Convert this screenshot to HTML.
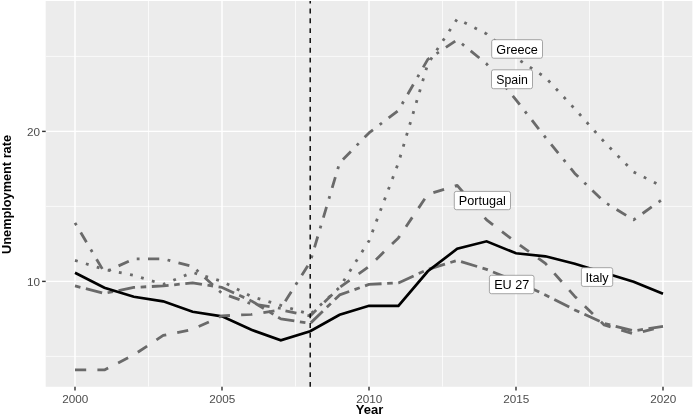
<!DOCTYPE html><html><head><meta charset="utf-8"><title>Unemployment rate</title><style>html,body{margin:0;padding:0;background:#fff}svg{display:block}text{font-family:"Liberation Sans",sans-serif}</style></head><body>
<svg width="694" height="416" viewBox="0 0 694 416">
<rect width="694" height="416" fill="#fff"/>
<rect x="45.7" y="1.0" width="646.65" height="385.75" fill="#ececec"/>
<clipPath id="c"><rect x="45.7" y="1.0" width="646.65" height="385.75"/></clipPath>
<g clip-path="url(#c)">
<line x1="45.7" x2="692.35" y1="356.40" y2="356.40" stroke="#fff" stroke-width="0.71"/>
<line x1="45.7" x2="692.35" y1="206.40" y2="206.40" stroke="#fff" stroke-width="0.71"/>
<line x1="45.7" x2="692.35" y1="56.40" y2="56.40" stroke="#fff" stroke-width="0.71"/>
<line y1="1.0" y2="386.75" x1="148.50" x2="148.50" stroke="#fff" stroke-width="0.71"/>
<line y1="1.0" y2="386.75" x1="295.50" x2="295.50" stroke="#fff" stroke-width="0.71"/>
<line y1="1.0" y2="386.75" x1="442.50" x2="442.50" stroke="#fff" stroke-width="0.71"/>
<line y1="1.0" y2="386.75" x1="589.50" x2="589.50" stroke="#fff" stroke-width="0.71"/>
<line x1="45.7" x2="692.35" y1="281.40" y2="281.40" stroke="#fff" stroke-width="1.42"/>
<line x1="45.7" x2="692.35" y1="131.40" y2="131.40" stroke="#fff" stroke-width="1.42"/>
<line y1="1.0" y2="386.75" x1="75.00" x2="75.00" stroke="#fff" stroke-width="1.42"/>
<line y1="1.0" y2="386.75" x1="222.00" x2="222.00" stroke="#fff" stroke-width="1.42"/>
<line y1="1.0" y2="386.75" x1="369.00" x2="369.00" stroke="#fff" stroke-width="1.42"/>
<line y1="1.0" y2="386.75" x1="516.00" x2="516.00" stroke="#fff" stroke-width="1.42"/>
<line y1="1.0" y2="386.75" x1="663.00" x2="663.00" stroke="#fff" stroke-width="1.42"/>
<polyline points="75.00,285.90 104.40,293.40 133.80,287.40 163.20,285.90 192.60,282.90 222.00,287.40 251.40,300.90 280.80,318.90 310.20,323.40 339.60,294.90 369.00,284.40 398.40,282.90 427.80,269.40 457.20,260.40 486.60,269.40 516.00,281.40 545.40,294.90 574.80,309.90 604.20,323.40 633.60,330.90 663.00,326.40" fill="none" stroke="#6a6a6a" stroke-width="2.8" stroke-linejoin="round" stroke-dasharray="5.600 5.600 16.800 5.600" stroke-dashoffset="0.00"/>
<polyline points="75.00,260.40 104.40,269.40 133.80,275.40 163.20,284.40 192.60,272.40 222.00,281.40 251.40,296.40 280.80,305.40 310.20,314.40 339.60,287.40 369.00,240.90 398.40,162.90 427.80,63.90 457.20,18.90 486.60,33.90 516.00,57.90 545.40,77.40 574.80,108.90 604.20,141.90 633.60,171.90 663.00,186.90" fill="none" stroke="#6a6a6a" stroke-width="2.8" stroke-linejoin="round" stroke-dasharray="2.845 8.535" stroke-dashoffset="-0.00"/>
<polyline points="75.00,272.80 104.40,287.80 133.80,296.80 163.20,301.30 192.60,311.80 222.00,316.30 251.40,329.80 280.80,340.30 310.20,331.30 339.60,314.80 369.00,305.80 398.40,305.80 427.80,271.30 457.20,248.80 486.60,241.30 516.00,253.30 545.40,256.30 574.80,263.80 604.20,272.80 633.60,281.80 663.00,293.80" fill="none" stroke="#000" stroke-width="2.7" stroke-linejoin="miter"/>
<polyline points="75.00,369.90 104.40,369.90 133.80,354.90 163.20,335.40 192.60,329.40 222.00,315.90 251.40,314.40 280.80,309.90 310.20,315.90 339.60,287.40 369.00,266.40 398.40,237.90 427.80,194.40 457.20,185.40 486.60,219.90 516.00,242.40 545.40,263.40 574.80,296.40 604.20,324.90 633.60,333.90 663.00,326.40" fill="none" stroke="#6a6a6a" stroke-width="2.8" stroke-linejoin="round" stroke-dasharray="11.200 11.200" stroke-dashoffset="0.00"/>
<polyline points="75.00,222.90 104.40,272.40 133.80,258.90 163.20,258.90 192.60,266.40 222.00,293.40 251.40,303.90 280.80,308.40 310.20,261.90 339.60,162.90 369.00,132.90 398.40,110.40 427.80,59.40 457.20,39.90 486.60,63.90 516.00,99.90 545.40,137.40 574.80,173.40 604.20,201.90 633.60,219.90 663.00,198.90" fill="none" stroke="#6a6a6a" stroke-width="2.8" stroke-linejoin="round" stroke-dasharray="2.814 8.442 11.256 8.442" stroke-dashoffset="0.00"/>
<line x1="310.20" x2="310.20" y1="386.95" y2="1.0" stroke="#000" stroke-width="1.4" stroke-dasharray="4.915 4.915"/>
</g>
<rect x="491.7" y="39.7" width="50.80" height="18.50" rx="2" fill="#fff" stroke="#8a8a8a" stroke-width="0.75"/>
<text x="517.10" y="53.75" font-size="12.65" text-anchor="middle" fill="#000">Greece</text>
<rect x="491.5" y="69.8" width="41.00" height="18.90" rx="2" fill="#fff" stroke="#8a8a8a" stroke-width="0.75"/>
<text x="512.00" y="84.05" font-size="12.3" text-anchor="middle" fill="#000">Spain</text>
<rect x="454.3" y="191.4" width="56.20" height="18.30" rx="2" fill="#fff" stroke="#8a8a8a" stroke-width="0.75"/>
<text x="482.40" y="205.35" font-size="12.65" text-anchor="middle" fill="#000">Portugal</text>
<rect x="581.4" y="267.7" width="31.30" height="18.70" rx="2" fill="#fff" stroke="#8a8a8a" stroke-width="0.75"/>
<text x="597.05" y="281.85" font-size="12.65" text-anchor="middle" fill="#000">Italy</text>
<rect x="489.4" y="275.3" width="44.60" height="18.40" rx="2" fill="#fff" stroke="#8a8a8a" stroke-width="0.75"/>
<text x="511.70" y="289.30" font-size="12.65" text-anchor="middle" fill="#000">EU 27</text>
<line x1="75.00" x2="75.00" y1="386.75" y2="390.55" stroke="#333" stroke-width="1.42"/>
<text x="75.20" y="402.55" font-size="11.73" text-anchor="middle" fill="#4d4d4d">2000</text>
<line x1="222.00" x2="222.00" y1="386.75" y2="390.55" stroke="#333" stroke-width="1.42"/>
<text x="222.20" y="402.55" font-size="11.73" text-anchor="middle" fill="#4d4d4d">2005</text>
<line x1="369.00" x2="369.00" y1="386.75" y2="390.55" stroke="#333" stroke-width="1.42"/>
<text x="369.20" y="402.55" font-size="11.73" text-anchor="middle" fill="#4d4d4d">2010</text>
<line x1="516.00" x2="516.00" y1="386.75" y2="390.55" stroke="#333" stroke-width="1.42"/>
<text x="516.20" y="402.55" font-size="11.73" text-anchor="middle" fill="#4d4d4d">2015</text>
<line x1="663.00" x2="663.00" y1="386.75" y2="390.55" stroke="#333" stroke-width="1.42"/>
<text x="663.20" y="402.55" font-size="11.73" text-anchor="middle" fill="#4d4d4d">2020</text>
<line x1="42.1" x2="45.7" y1="281.40" y2="281.40" stroke="#333" stroke-width="1.42"/>
<text x="40.1" y="285.65" font-size="11.73" text-anchor="end" fill="#4d4d4d">10</text>
<line x1="42.1" x2="45.7" y1="131.40" y2="131.40" stroke="#333" stroke-width="1.42"/>
<text x="40.1" y="135.65" font-size="11.73" text-anchor="end" fill="#4d4d4d">20</text>
<text transform="translate(369.55,413.75) scale(1.04,1)" font-size="12.5" font-weight="bold" text-anchor="middle" fill="#000">Year</text>
<text transform="translate(11.3,194.45) rotate(-90) scale(1.02,1)" font-size="12.5" font-weight="bold" text-anchor="middle" fill="#000">Unemployment rate</text>
</svg></body></html>
